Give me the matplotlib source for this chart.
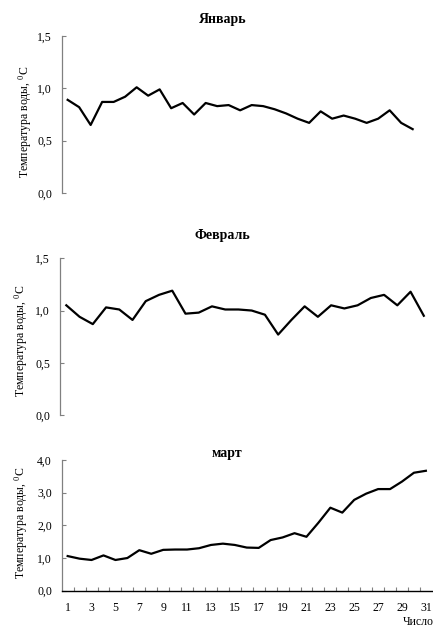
import numpy as np
import matplotlib
matplotlib.use('Agg')
import matplotlib.pyplot as plt
from matplotlib.ticker import FuncFormatter

# среднесуточная температура воды по месяцам
jan_days = np.arange(1, 32)
jan_temp = [0.89, 0.82, 0.65, 0.87, 0.87, 0.92, 1.01, 0.93, 0.99, 0.81,
            0.86, 0.75, 0.86, 0.83, 0.84, 0.79, 0.84, 0.83, 0.80, 0.76,
            0.71, 0.67, 0.78, 0.71, 0.74, 0.71, 0.67, 0.71, 0.79, 0.67,
            0.61]

feb_days = np.arange(1, 29)
feb_temp = [1.05, 0.94, 0.87, 1.03, 1.01, 0.91, 1.09, 1.15, 1.19, 0.97,
            0.98, 1.04, 1.01, 1.01, 1.00, 0.96, 0.77, 0.91, 1.04, 0.94,
            1.05, 1.02, 1.05, 1.12, 1.15, 1.05, 1.18, 0.95]

mar_days = np.arange(1, 32)
mar_temp = [1.06, 0.98, 0.94, 1.08, 0.94, 1.00, 1.24, 1.13, 1.25, 1.26,
            1.26, 1.30, 1.40, 1.44, 1.40, 1.32, 1.31, 1.55, 1.63, 1.76,
            1.65, 2.08, 2.54, 2.39, 2.78, 2.97, 3.11, 3.11, 3.34, 3.61,
            3.67]
mar_labels = np.arange(1, 32, 2)

plt.rcParams['font.family'] = ['Liberation Serif', 'DejaVu Serif']
plt.rcParams['mathtext.fontset'] = 'custom'
plt.rcParams['mathtext.rm'] = 'Liberation Serif'
plt.rcParams['mathtext.it'] = 'Liberation Serif'

W, H = 433, 630
fig = plt.figure(figsize=(W / 100, H / 100), dpi=100)

comma = FuncFormatter(lambda v, p: f'{v:.1f}'.replace('.', ','))
ylab = 'Температура воды, $^{0}$C'


def px_axes(left, top, width, height):
    return fig.add_axes([left / W, 1 - (top + height) / H, width / W, height / H])


def style_axes(ax, ymax, ystep):
    ax.set_ylim(0, ymax)
    ax.set_yticks(np.arange(0, ymax + 0.01, ystep))
    ax.yaxis.set_major_formatter(comma)
    ax.tick_params(axis='y', direction='in', length=3, width=0.8,
                   color='#808080', pad=7, labelsize=8.5)
    for s in ['top', 'right']:
        ax.spines[s].set_visible(False)
    ax.spines['left'].set_color('#808080')
    ax.spines['left'].set_linewidth(0.9)


# январь
ax1 = px_axes(61.9, 36, 31 * 11.5, 157)
ax1.plot(jan_days, jan_temp, color='black', lw=1.6)
ax1.set_xlim(0.5, 31.5)
style_axes(ax1, 1.5, 0.5)
ax1.spines['bottom'].set_visible(False)
ax1.set_xticks([])
fig.text(223 / W, 1 - 20 / H, 'Январь', ha='center', va='center',
         fontsize=10, fontweight='bold')
fig.text(25 / W, 1 - 122 / H, ylab, rotation=90, ha='center', va='center',
         fontsize=8.5)

# февраль
ax2 = px_axes(59.7, 258.3, 28 * 13.24, 156.7)
ax2.plot(feb_days, feb_temp, color='black', lw=1.6)
ax2.set_xlim(0.5, 28.5)
style_axes(ax2, 1.5, 0.5)
ax2.spines['bottom'].set_visible(False)
ax2.set_xticks([])
fig.text(222 / W, 1 - 235 / H, 'Февраль', ha='center', va='center',
         fontsize=10, fontweight='bold')
fig.text(21 / W, 1 - 341 / H, ylab, rotation=90, ha='center', va='center',
         fontsize=8.5)

# март
ax3 = px_axes(61.7, 460, 31 * 11.94, 130.7)
ax3.plot(mar_days, mar_temp, color='black', lw=1.6)
ax3.set_xlim(0.5, 31.5)
style_axes(ax3, 4.0, 1.0)
ax3.spines['bottom'].set_color('black')
ax3.spines['bottom'].set_linewidth(1.0)
ax3.set_xticks(mar_labels)
ax3.set_xticks(np.arange(1.5, 31, 1), minor=True)
ax3.tick_params(axis='x', which='major', length=0, pad=8, labelsize=8.5)
ax3.tick_params(axis='x', which='minor', direction='in', length=3,
                width=0.8, color='#808080')
fig.text(227 / W, 1 - 454 / H, 'март', ha='center', va='center',
         fontsize=10, fontweight='bold')
fig.text(21 / W, 1 - 523 / H, ylab, rotation=90, ha='center', va='center',
         fontsize=8.5)
fig.text(403 / W, 1 - 622 / H, 'Число', ha='left', va='center', fontsize=8.5)

fig.savefig('out.png', dpi=100)
